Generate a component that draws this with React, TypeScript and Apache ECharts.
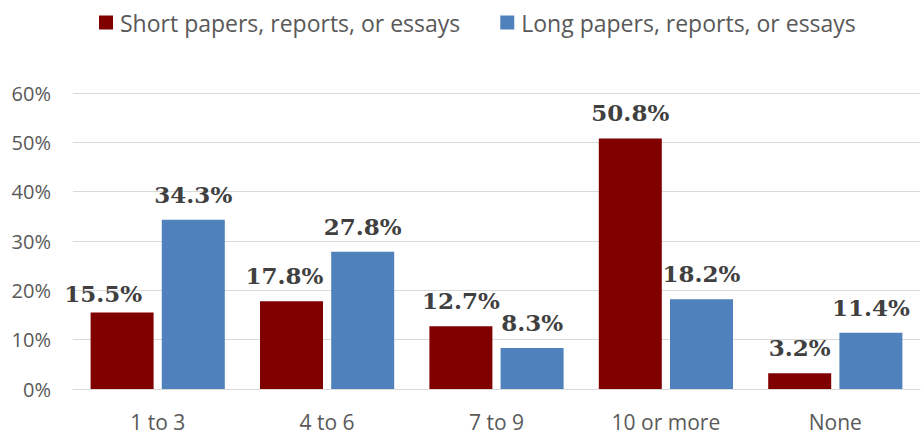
import React, { useEffect, useRef } from "react";
import * as echarts from "echarts";

const categories = ["1 to 3", "4 to 6", "7 to 9", "10 or more", "None"];
const shortPapers = [15.5, 17.8, 12.7, 50.8, 3.2];
const longPapers = [34.3, 27.8, 8.3, 18.2, 11.4];
const seriesNames = ["Short papers, reports, or essays", "Long papers, reports, or essays"];
const shortLabelOffsets = [[-19, 6], [-7, 0], [0, 0], [0, 0], [0, 0]];

export default function App() {
  const ref = useRef<HTMLDivElement>(null);
  useEffect(() => {
    document.body.style.margin = "0";
    const chart = echarts.init(ref.current!, null, { renderer: "svg" });
    const labelStyle = {
      show: true,
      position: "top",
      distance: 14,
      fontFamily: "DejaVu Serif",
      fontWeight: "bold",
      fontSize: 23,
      color: "#404040",
      formatter: (p: any) => p.value.toFixed(1) + "%",
    };
    chart.setOption({
      animation: false,
      legend: {
        top: 6,
        left: 94,
        itemWidth: 14,
        itemHeight: 14,
        itemGap: 40,
        icon: "rect",
        textStyle: { fontFamily: "Open Sans", fontSize: 23, color: "#595959", padding: [0, 0, 0, 2] },
        data: seriesNames,
      },
      grid: { left: 73, right: 2, top: 93, bottom: 48, containLabel: false },
      xAxis: {
        type: "category",
        data: categories,
        axisLine: { lineStyle: { color: "#d9d9d9" } },
        axisTick: { show: false },
        axisLabel: { fontFamily: "Open Sans", fontSize: 21, color: "#595959", margin: 22 },
      },
      yAxis: {
        type: "value",
        min: 0,
        max: 60,
        interval: 10,
        axisLabel: { formatter: "{value}%", fontFamily: "Open Sans", fontSize: 20, color: "#595959", margin: 22 },
        splitLine: { lineStyle: { color: "#d9d9d9", width: 1 } },
        axisLine: { show: false },
        axisTick: { show: false },
      },
      series: [
        {
          name: seriesNames[0],
          type: "bar",
          barWidth: 63,
          barGap: "13%",
          itemStyle: { color: "#800000" },
          data: shortPapers.map((v, i) => ({
            value: v,
            label: { offset: shortLabelOffsets[i] },
          })),
          label: labelStyle,
        },
        {
          name: seriesNames[1],
          type: "bar",
          barWidth: 63,
          itemStyle: { color: "#4f81bd" },
          data: longPapers,
          label: labelStyle,
        },
      ],
    });
    return () => chart.dispose();
  }, []);
  return <div ref={ref} style={{ width: 922, height: 437 }} />;
}
